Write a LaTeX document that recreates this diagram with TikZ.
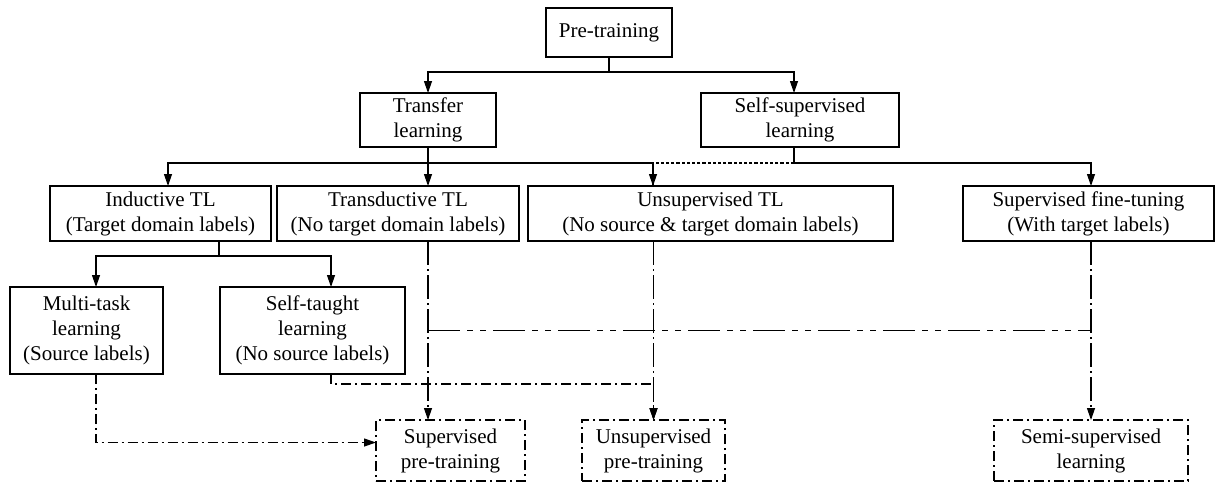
\documentclass[tikz,border=0pt]{standalone}
\usepackage{fontspec}
\setmainfont{Liberation Serif}
\usepackage{tikz}
\usetikzlibrary{shapes,arrows,arrows.meta,positioning,fit,calc}

\begin{document}
\begin{tikzpicture}[
    node distance=18pt,
    every node/.style={font=\fontsize{10.5}{12.5}\selectfont},
    box/.style={rectangle, draw, line width=0.6pt, align=center, inner sep=0pt, outer sep=0pt},
    dbox/.style={box, dash pattern=on 5pt off 2pt on 1pt off 2pt},
    link/.style={line width=0.6pt, -{Triangle[length=6pt,width=4pt]}},
    dotlink/.style={line width=0.6pt, dash pattern=on 1.6pt off 1pt},
    ddlink/.style={link, dash pattern=on 5pt off 2pt on 1pt off 2pt},
    ldlink/.style={link, dash pattern=on 12pt off 2pt on 1pt off 2pt},
    lddline/.style={line width=0.6pt, dash pattern=on 16pt off 3.5pt on 3pt off 3.5pt on 3pt off 3.5pt}
]
    \useasboundingbox (0,0) rectangle (608pt,-242pt);

    \node[box, minimum width=63pt, minimum height=24.5pt] (pre) at (304.5pt,-16.25pt) {Pre-training};

    \node[box, minimum width=68pt, minimum height=27pt, below left=18pt and 25pt of pre] (transfer) {Transfer\\learning};
    \node[box, minimum width=99pt, minimum height=27pt, below right=18pt and 14.5pt of pre] (selfsup) {Self-supervised\\learning};

    \node[box, minimum width=110.5pt, minimum height=27.5pt, below left=19.5pt and 44.5pt of transfer] (induct) {Inductive TL\\(Target domain labels)};
    \node[box, minimum width=121pt, minimum height=27.5pt, right=3pt of induct] (transd) {Transductive TL\\(No target domain labels)};
    \node[box, minimum width=182.5pt, minimum height=27.5pt, right=4.5pt of transd] (unsup) {Unsupervised TL\\(No source \& target domain labels)};
    \node[box, minimum width=125.5pt, minimum height=27.5pt, right=35pt of unsup] (supft) {Supervised fine-tuning\\(With target labels)};

    \node[box, minimum width=76.5pt, minimum height=43.5pt, below right=23pt and -20pt of induct.south west] (multi) {Multi-task\\learning\\(Source labels)};
    \node[box, minimum width=92.5pt, minimum height=43.5pt, right=28.5pt of multi] (selftaught) {Self-taught\\learning\\(No source labels)};

    \node[dbox, minimum width=74.5pt, minimum height=30.5pt, below right=23pt and 78pt of selftaught.south west] (suppre) {Supervised\\pre-training};
    \node[dbox, minimum width=71.5pt, minimum height=30.5pt, right=28.5pt of suppre] (unsuppre) {Unsupervised\\pre-training};
    \node[dbox, minimum width=97pt, minimum height=30.5pt, right=134.5pt of unsuppre] (semisup) {Semi-supervised\\learning};

    % tree links
    \draw[link] (pre.south) -- ++(0,-7.5pt) -| (transfer.north);
    \draw[link] (pre.south) -- ++(0,-7.5pt) -| ([xshift=-3pt]selfsup.north);
    \draw[link] (transfer.south) -- ++(0,-8pt) -| ([xshift=3.75pt]induct.north);
    \draw[link] (transfer.south) -- (transfer.south |- transd.north);
    \draw[link] (transfer.south) -- ++(0,-8pt) -| ([xshift=-28.75pt]unsup.north);
    \draw[link] ([xshift=-3pt]selfsup.south) -- ++(0,-8pt) -| ([xshift=1.25pt]supft.north);
    \draw[dotlink] ([xshift=-3pt]selfsup.south) ++(0,-8pt) -| ([xshift=-28.75pt]unsup.north);
    \draw[link] ([xshift=29.25pt]induct.south) -- ++(0,-7.5pt) -| ([xshift=4.75pt]multi.north);
    \draw[link] ([xshift=29.25pt]induct.south) -- ++(0,-7.5pt) -| ([xshift=9.25pt]selftaught.north);

    % pre-training links
    \draw[ddlink] ([xshift=4.75pt]multi.south) |- ([yshift=4pt]suppre.west);
    \draw[ddlink] ([xshift=9.25pt]selftaught.south) -- ++(0,-5pt) -| (unsuppre.north);
    \draw[ldlink] (transfer.south |- transd.south) -- (transfer.south |- suppre.north);
    \draw[ldlink] (unsuppre |- unsup.south) -- (unsuppre.north);
    \draw[ldlink] (semisup |- supft.south) -- (semisup.north);
    \draw[lddline] (transfer.south |- selftaught.east) -- (semisup |- selftaught.east);
\end{tikzpicture}
\end{document}
